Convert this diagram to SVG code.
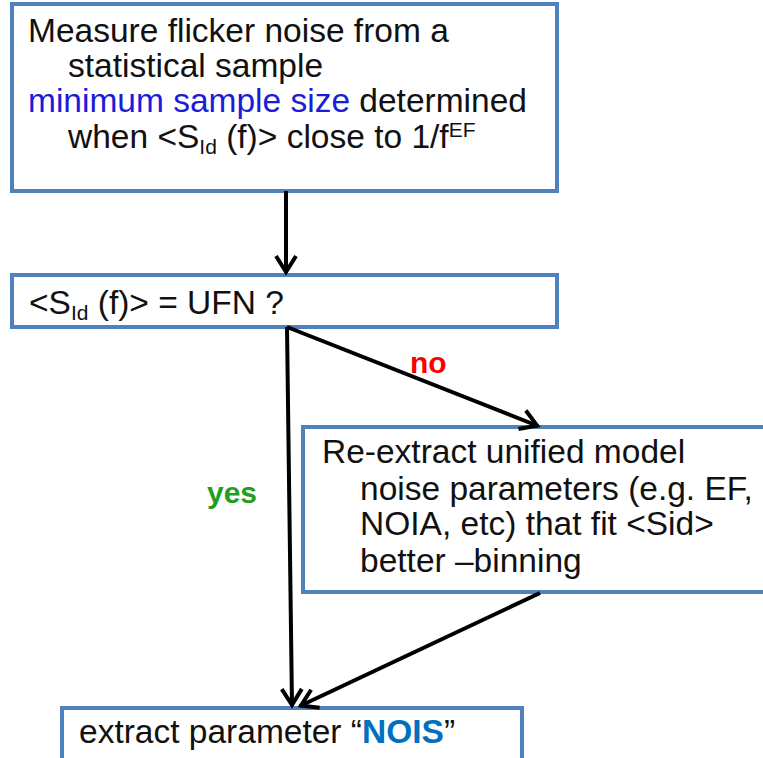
<svg xmlns="http://www.w3.org/2000/svg" width="763" height="758" viewBox="0 0 763 758">
<defs>
<style>
.box{fill:#ffffff;stroke:#4f81bd;stroke-width:4}
.t{font-family:"Liberation Sans",Arial,sans-serif;font-size:33.5px;fill:#111111}
.s{font-size:21px}
.blue{fill:#1c1cd8}
.nois{fill:#0070c0;font-weight:bold}
.lbl{font-family:"Liberation Sans",Arial,sans-serif;font-size:30px;font-weight:bold}
.conn{stroke:#000000;stroke-width:4;fill:none}
</style>
<marker id="arr" markerUnits="userSpaceOnUse" viewBox="-22 -14 26 28" refX="0" refY="0" markerWidth="26" markerHeight="28" orient="auto">
<path d="M-17,-10 L-1,0 L-17,10" fill="none" stroke="#000000" stroke-width="4" stroke-linejoin="miter"/>
</marker>
</defs>
<rect width="763" height="758" fill="#ffffff"/>
<g id="n1">
<rect class="box" x="12" y="4" width="545" height="187"/>
<text class="t" x="28" y="42">Measure flicker noise from a</text>
<text class="t" x="68" y="77">statistical sample</text>
<text class="t" x="28" y="112"><tspan class="blue">minimum sample size</tspan> determined</text>
<text class="t" x="68" y="148">when &lt;S<tspan class="s" dy="6">Id</tspan><tspan dy="-6"> (f)&gt; close to 1/f</tspan><tspan class="s" dy="-11">EF</tspan></text>
</g>
<g id="n2">
<rect class="box" x="12" y="275" width="545" height="52"/>
<text class="t" x="29" y="314">&lt;S<tspan class="s" dy="6">Id</tspan><tspan dy="-6"> (f)&gt; = UFN ?</tspan></text>
</g>
<g id="n3">
<rect class="box" x="303" y="427" width="470" height="165"/>
<text class="t" x="322" y="463">Re-extract unified model</text>
<text class="t" x="360" y="500">noise parameters (e.g. EF,</text>
<text class="t" x="360" y="535">NOIA, etc) that fit &lt;Sid&gt;</text>
<text class="t" x="360" y="572">better –binning</text>
</g>
<g id="n4">
<rect class="box" x="62" y="708" width="460" height="70"/>
<text class="t" x="79" y="743">extract parameter “<tspan class="nois">NOIS</tspan>”</text>
</g>
<g id="connectors">
<line class="conn" x1="286" y1="191" x2="286" y2="273" marker-end="url(#arr)"/>
<line class="conn" x1="287" y1="327" x2="538" y2="426" marker-end="url(#arr)"/>
<line class="conn" x1="287" y1="327" x2="292" y2="706" marker-end="url(#arr)"/>
<line class="conn" x1="540" y1="593" x2="300" y2="706" marker-end="url(#arr)"/>
<text class="lbl" x="410" y="373" fill="#ff0000">no</text>
<text class="lbl" x="207" y="503" fill="#1f9e1f">yes</text>
</g>
</svg>
